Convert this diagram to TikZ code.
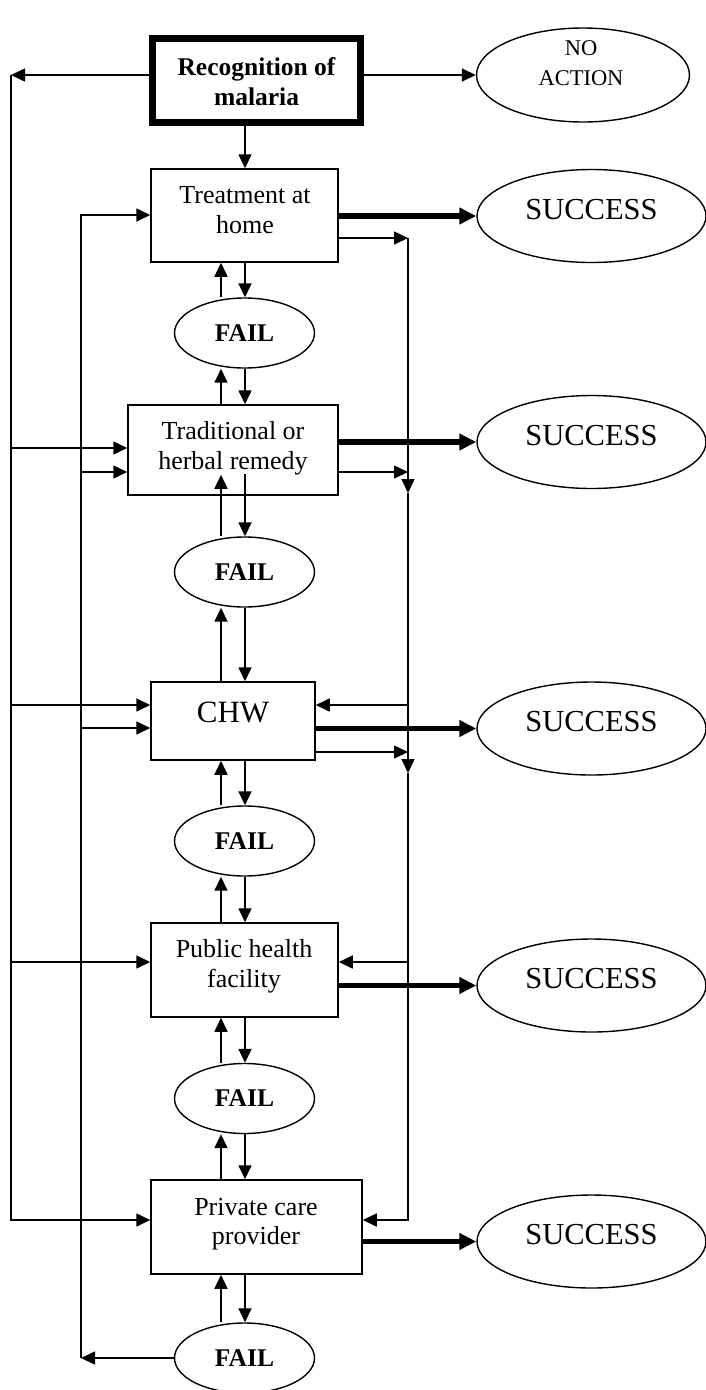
\documentclass[tikz,border=0pt]{standalone}
\usepackage{fontspec}
\setmainfont{Liberation Serif}
\usetikzlibrary{arrows.meta,shapes.geometric,calc}
\begin{document}
\begin{tikzpicture}[x=1pt,y=-1pt,
  box/.style={draw, rectangle, line width=1.5pt, inner sep=0pt},
  recbox/.style={draw, rectangle, line width=7pt, inner sep=0pt},
  oval/.style={draw, ellipse, line width=1.4pt, inner sep=0pt},
  lbl/.style={anchor=base, inner sep=0pt, font=\fontsize{26}{30}\selectfont},
  boldlbl/.style={anchor=base, inner sep=0pt, font=\fontsize{25.5}{30}\selectfont\bfseries},
  smalllbl/.style={anchor=base, inner sep=0pt, font=\fontsize{22.5}{30}\selectfont},
  chwlbl/.style={anchor=base, inner sep=0pt, font=\fontsize{31}{34}\selectfont},
  succ/.style={oval, minimum width=229pt, minimum height=93pt, font=\fontsize{30.5}{34}\selectfont, text height=20pt, text depth=14pt},
  fail/.style={oval, minimum width=140pt, minimum height=70pt, font=\fontsize{25.5}{30}\selectfont\bfseries},
  arr/.style={line width=1.6pt, -{Triangle[length=14pt,width=13pt]}},
  plain/.style={line width=1.6pt},
  heavy/.style={line width=5.5pt, -{Triangle[length=17pt,width=16pt]}},
]
\useasboundingbox (0,0) rectangle (706,1390);

% main boxes
\node[recbox, minimum width=208pt, minimum height=84pt] (rec) at (256.5,80.5) {};
\node[box, minimum width=187pt, minimum height=93pt] (treat) at (244.5,215.5) {};
\node[box, minimum width=210pt, minimum height=90pt] (trad) at (233,450) {};
\node[box, minimum width=164pt, minimum height=78pt] (chw) at (233,721) {};
\node[box, minimum width=187pt, minimum height=94pt] (pub) at (244.5,970) {};
\node[box, minimum width=211pt, minimum height=94pt] (priv) at (256.5,1227) {};

% box texts
\node[boldlbl] (rect1) at (256.5,75) {Recognition of};
\node[boldlbl] (rect2) at (256.5,105) {malaria};
\node[lbl] (treatt1) at (245,203) {Treatment at};
\node[lbl] (treatt2) at (245,233) {home};
\node[lbl] (tradt1) at (233,439) {Traditional or};
\node[lbl] (tradt2) at (233,469) {herbal remedy};
\node[chwlbl] (chwt) at (233,722) {CHW};
\node[lbl] (pubt1) at (244,957) {Public health};
\node[lbl] (pubt2) at (244,987) {facility};
\node[lbl] (privt1) at (256,1215) {Private care};
\node[lbl] (privt2) at (256,1244) {provider};

% ellipses
\node[oval, minimum width=213pt, minimum height=94pt] (noact) at (583,75) {};
\node[smalllbl] (noactt1) at (581,55) {NO};
\node[smalllbl] (noactt2) at (581,85) {ACTION};
\node[succ] (s1) at (591.5,216) {SUCCESS};
\node[succ] (s2) at (591.5,442) {SUCCESS};
\node[succ] (s3) at (591.5,728.5) {SUCCESS};
\node[succ] (s4) at (591.5,985.5) {SUCCESS};
\node[succ] (s5) at (591.5,1241.5) {SUCCESS};
\node[fail] (f1) at (244.5,333) {FAIL};
\node[fail] (f2) at (244.5,572) {FAIL};
\node[fail] (f3) at (244.5,841) {FAIL};
\node[fail] (f4) at (244.5,1098.5) {FAIL};
\node[fail] (f5) at (244.5,1358) {FAIL};

% helper coordinates
\coordinate (xu) at (221,0);
\coordinate (xd) at (245,0);
\coordinate (L0) at (11,75);
\coordinate (L1) at (11,448);
\coordinate (L2) at (11,705);
\coordinate (L3) at (11,962);
\coordinate (L4) at (11,1220);
\coordinate (M0) at (81,215);
\coordinate (M1) at (81,472);
\coordinate (M2) at (81,728);
\coordinate (M3) at (81,1358);
\coordinate (R0) at (408,238);
\coordinate (R1) at (408,472);
\coordinate (R1d) at (408,493);
\coordinate (R2) at (408,705);
\coordinate (R3) at (408,752);
\coordinate (R3d) at (408,773);
\coordinate (R4) at (408,962);
\coordinate (R5) at (408,1220);

% recognition arrows
\draw[arr] (rec.east |- noact.west) -- (noact.west);
\draw[arr] (rec.west |- L0) -- (L0);
\draw[arr] (rec.south -| xd) -- (treat.north -| xd);

% outer left line
\draw[arr] (L0) -- (L4) -- (L4 -| priv.west);
\draw[arr] (L1) -- (L1 -| trad.west);
\draw[arr] (L2) -- (L2 -| chw.west);
\draw[arr] (L3) -- (L3 -| pub.west);

% inner left line
\draw[arr] (f5.west) -- (M3);
\draw[arr] (M3) -- (M0) -- (M0 -| treat.west);
\draw[arr] (M1) -- (M1 -| trad.west);
\draw[arr] (M2) -- (M2 -| chw.west);

% right line
\draw[arr] (R0 -| treat.east) -- (R0);
\draw[arr] (R0) -- (R1d);
\draw[arr] (R1d) -- (R3d);
\draw[arr] (R3d) -- (R5) -- (R5 -| priv.east);
\draw[arr] (R1 -| trad.east) -- (R1);
\draw[arr] (R2) -- (R2 -| chw.east);
\draw[arr] (R3 -| chw.east) -- (R3);
\draw[arr] (R4) -- (R4 -| pub.east);

% success arrows
\draw[heavy] (treat.east |- s1.west) -- (s1.west);
\draw[heavy] (trad.east |- s2.west) -- (s2.west);
\draw[heavy] (chw.east |- s3.west) -- (s3.west);
\draw[heavy] (pub.east |- s4.west) -- (s4.west);
\draw[heavy] (priv.east |- s5.west) -- (s5.west);

% box <-> fail arrows
\draw[arr] (f1.north -| xu) -- (treat.south -| xu);
\draw[arr] (treat.south -| xd) -- (f1.north -| xd);
\draw[arr] (trad.north -| xu) -- (f1.south -| xu);
\draw[arr] (f1.south -| xd) -- (trad.north -| xd);
\draw[arr] (f2.north -| xu) -- ($(trad.south -| xu)+(0,-21)$);
\draw[arr] ($(trad.south -| xd)+(0,-22)$) -- (f2.north -| xd);
\draw[arr] (chw.north -| xu) -- (f2.south -| xu);
\draw[arr] (f2.south -| xd) -- (chw.north -| xd);
\draw[arr] (f3.north -| xu) -- (chw.south -| xu);
\draw[arr] (chw.south -| xd) -- (f3.north -| xd);
\draw[arr] (pub.north -| xu) -- (f3.south -| xu);
\draw[arr] (f3.south -| xd) -- (pub.north -| xd);
\draw[arr] (f4.north -| xu) -- (pub.south -| xu);
\draw[arr] (pub.south -| xd) -- (f4.north -| xd);
\draw[arr] (priv.north -| xu) -- (f4.south -| xu);
\draw[arr] (f4.south -| xd) -- (priv.north -| xd);
\draw[arr] (f5.north -| xu) -- (priv.south -| xu);
\draw[arr] (priv.south -| xd) -- (f5.north -| xd);
\end{tikzpicture}
\end{document}
